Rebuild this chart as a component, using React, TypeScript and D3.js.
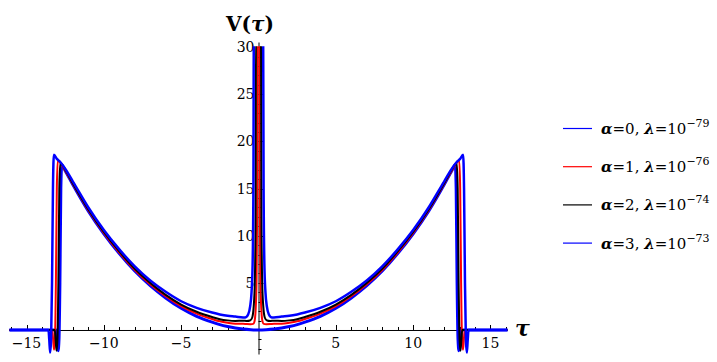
import React, { useEffect, useRef } from "react";
import * as d3 from "d3";

// half curves (tau >= 0); the plot is symmetric in tau
const alpha0Half: [number, number][] = [
  [0, 0], [0.5, 0.03], [1, 0.1], [1.5, 0.21], [2, 0.37], [2.5, 0.57], [3, 0.83], [4, 1.45],
  [5, 2.3], [6, 3.4], [7, 4.7], [8, 6.25], [9, 8.1], [10, 10.2], [11, 12.6], [12, 15.4],
  [12.5, 16.9], [12.72, 17.5], [12.78, 15], [12.84, 5], [12.9, -1], [12.96, -2.2],
  [13.02, -1], [13.07, 0], [16.1, 0],
];
const alpha1Half: [number, number][] = [
  [0.07, 32], [0.09, 12], [0.13, 5], [0.19, 2], [0.26, 0.9], [0.34, 0.65], [0.5, 0.62],
  [0.75, 0.63], [1, 0.66], [1.5, 0.67], [2, 0.77], [2.5, 0.92], [3, 1.16], [4, 1.73],
  [5, 2.52], [6, 3.58], [7, 4.85], [8, 6.37], [9, 8.2], [10, 10.3], [11, 12.7], [12, 15.5],
  [12.5, 16.9], [12.98, 17.95], [13.04, 15], [13.1, 5], [13.16, -1], [13.22, -2.1],
  [13.28, -1], [13.33, 0], [16.1, 0],
];
const alpha2Half: [number, number][] = [
  [0.16, 32], [0.19, 12], [0.24, 5], [0.31, 2.5], [0.41, 1.3], [0.55, 1.0], [0.75, 0.95],
  [1, 0.99], [1.5, 0.96], [2, 1.02], [2.5, 1.15], [3, 1.38], [4, 1.93], [5, 2.7], [6, 3.73],
  [7, 5.0], [8, 6.5], [9, 8.33], [10, 10.4], [11, 12.8], [12, 15.55], [12.5, 17.0],
  [12.82, 17.7], [12.88, 15], [12.94, 5], [13.0, -1], [13.06, -2.2], [13.12, -1],
  [13.17, 0], [16.1, 0],
];
const alpha3Half: [number, number][] = [
  [0.3, 32], [0.33, 15], [0.38, 7], [0.45, 4], [0.54, 2.5], [0.67, 1.65], [0.87, 1.32],
  [1, 1.33], [1.5, 1.42], [2, 1.5], [2.5, 1.65], [3, 1.85], [4, 2.35], [5, 3.05], [6, 4.05],
  [7, 5.25], [8, 6.75], [9, 8.55], [10, 10.6], [11, 13.0], [12, 15.75], [12.5, 17.1],
  [12.83, 17.85], [13.04, 18.15], [13.23, 18.6], [13.29, 15], [13.35, 5], [13.41, -1],
  [13.47, -2.4], [13.53, -1], [13.58, 0], [16.1, 0],
];

const seriesNames = ["α=0, λ=10", "α=1, λ=10", "α=2, λ=10", "α=3, λ=10"];
const seriesExp = ["−79", "−76", "−74", "−73"];
const seriesColors = ["#0000ff", "#ff0000", "#000000", "#0000ff"];
const seriesWidths = [3, 2, 2, 2.5];

const xTicks = [-15, -10, -5, 5, 10, 15];
const yTicks = [5, 10, 15, 20, 25, 30];

function mirror(half: [number, number][]) {
  const left = half.filter(d => d[0] > 0).map(d => [-d[0], d[1]] as [number, number]).reverse();
  const right = half.filter(d => d[0] >= 0);
  return left.concat(right);
}

export default function App() {
  const svgRef = useRef<SVGSVGElement>(null);
  const width = 717;
  const height = 362;

  useEffect(() => {
    const svg = d3.select(svgRef.current);
    svg.selectAll("*").remove();

    const x = d3.scaleLinear().domain([-16.1, 16.1]).range([9.5, 507.5]);
    const y = d3.scaleLinear().domain([-2.6, 30.5]).range([354.5, 42.5]);
    const serif = "'DejaVu Serif', serif";

    svg.append("defs").append("clipPath").attr("id", "plotclip")
      .append("rect")
      .attr("x", 0).attr("y", y(30) - 1)
      .attr("width", 520).attr("height", height);

    // axes
    const ax = svg.append("g").attr("stroke", "#000").attr("stroke-width", 1);
    ax.append("line")
      .attr("x1", x(-16.1)).attr("x2", x(16.1))
      .attr("y1", y(0) + 0.5).attr("y2", y(0) + 0.5);
    ax.append("line")
      .attr("x1", x(0) + 0.5).attr("x2", x(0) + 0.5)
      .attr("y1", y(30.5)).attr("y2", y(-2.6));

    d3.range(-16, 17).filter(v => v !== 0).forEach(v => {
      const major = v % 5 === 0;
      ax.append("line")
        .attr("x1", Math.round(x(v)) + 0.5).attr("x2", Math.round(x(v)) + 0.5)
        .attr("y1", y(0)).attr("y2", y(0) - (major ? 5 : 3));
    });
    d3.range(-2, 31).filter(v => v !== 0).forEach(v => {
      const major = v % 5 === 0;
      ax.append("line")
        .attr("x1", x(0)).attr("x2", x(0) + (major ? 5 : 3))
        .attr("y1", Math.round(y(v)) + 0.5).attr("y2", Math.round(y(v)) + 0.5);
    });

    svg.append("g").selectAll("text").data(xTicks).join("text")
      .attr("x", d => x(d))
      .attr("y", y(0) + 18)
      .attr("text-anchor", "middle")
      .style("font-family", serif)
      .attr("font-size", 14)
      .text(d => (d < 0 ? "−" + Math.abs(d) : String(d)));

    svg.append("g").selectAll("text").data(yTicks).join("text")
      .attr("x", x(0) - 4)
      .attr("y", d => y(d) + 5)
      .attr("text-anchor", "end")
      .style("font-family", serif)
      .attr("font-size", 14)
      .text(d => String(d));

    // axis titles
    const vt = svg.append("text")
      .attr("x", 226).attr("y", 31)
      .style("font-family", serif).attr("font-size", 20).attr("font-weight", "bold");
    vt.append("tspan").text("V(");
    vt.append("tspan").attr("font-style", "italic").text("τ");
    vt.append("tspan").text(")");

    svg.append("text")
      .attr("x", 515).attr("y", 336)
      .style("font-family", serif).attr("font-size", 22)
      .attr("font-weight", "bold").attr("font-style", "italic")
      .text("τ");

    // curves
    const line = d3.line<[number, number]>()
      .x(d => x(d[0]))
      .y(d => y(d[1]))
      .curve(d3.curveMonotoneX);

    const curves = svg.append("g").attr("clip-path", "url(#plotclip)");
    [alpha0Half, alpha1Half, alpha2Half, alpha3Half].forEach((half, i) => {
      curves.append("path")
        .datum(mirror(half))
        .attr("fill", "none")
        .attr("stroke", seriesColors[i])
        .attr("stroke-width", seriesWidths[i])
        .attr("stroke-linejoin", "round")
        .attr("d", line);
    });

    // legend
    const legend = svg.append("g").attr("transform", "translate(563, 128)");
    seriesNames.forEach((name, i) => {
      const gy = i * 38.2;
      legend.append("line")
        .attr("x1", 0).attr("x2", 29)
        .attr("y1", gy + 0.5).attr("y2", gy + 0.5)
        .attr("stroke", seriesColors[i]).attr("stroke-width", 1.2);
      const t = legend.append("text")
        .attr("x", 38).attr("y", gy + 6)
        .style("font-family", serif).attr("font-size", 15);
      const parts = name.split(/(α|λ)/);
      parts.forEach(p => {
        if (p === "α" || p === "λ") {
          t.append("tspan").attr("font-style", "italic").attr("font-weight", "bold").text(p);
        } else if (p) {
          t.append("tspan").text(p);
        }
      });
      t.append("tspan").attr("dy", -7).attr("font-size", 11).text(seriesExp[i]);
    });
  }, []);

  return (
    <svg
      ref={svgRef}
      width={width}
      height={height}
      style={{ position: "absolute", left: 0, top: 0, background: "#fff" }}
    />
  );
}
